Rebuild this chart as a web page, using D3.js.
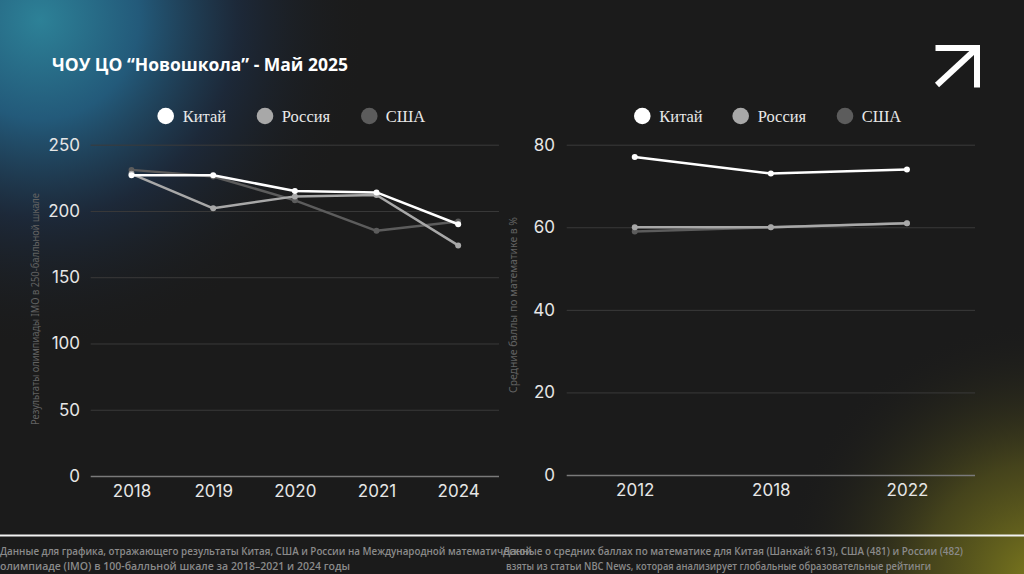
<!DOCTYPE html>
<html><head><meta charset="utf-8">
<script src="https://cdn.jsdelivr.net/npm/d3@7"></script>
<style>
html,body{margin:0;padding:0;background:#1b1b1b;overflow:hidden;}
svg{display:block;}
</style></head>
<body>
<svg id="chart" width="1024" height="574"></svg>
<script>
const titleText = "ЧОУ ЦО “Новошкола” - Май 2025";
const seriesNames = ["Китай", "Россия", "США"];
const seriesColors = ["#ffffff", "#a8a8a8", "#5c5c5c"];

const imoYears = ["2018", "2019", "2020", "2021", "2024"];
const imoChina = [227, 227, 215, 214, 190];
const imoRussia = [228, 202, 211, 212, 174];
const imoUSA = [231, 226, 208, 185, 192];
const imoTicks = [0, 50, 100, 150, 200, 250];

const mathYears = ["2012", "2018", "2022"];
const mathChina = [77, 73, 74];
const mathRussia = [60, 60, 61];
const mathUSA = [59, 60, 61];
const mathTicks = [0, 20, 40, 60, 80];

const leftAxisTitle = "Результаты олимпиады IMO в 250-балльной шкале";
const rightAxisTitle = "Средние баллы по математике в %";
const footLeft = ["Данные для графика, отражающего результаты Китая, США и России на Международной математической",
                  "олимпиаде (IMO) в 100-балльной шкале за 2018–2021 и 2024 годы"];
const footRight = ["Данные о средних баллах по математике для Китая (Шанхай: 613), США (481) и России (482)",
                   "взяты из статьи NBC News, которая анализирует глобальные образовательные рейтинги"];

const svg = d3.select("#chart");
const defs = svg.append("defs");
const g1 = defs.append("radialGradient").attr("id","tl").attr("cx",40).attr("cy",20).attr("r",330).attr("gradientUnits","userSpaceOnUse");
g1.append("stop").attr("offset",0).attr("stop-color","#2d8197");
g1.append("stop").attr("offset",0.3).attr("stop-color","#235a7a");
g1.append("stop").attr("offset",0.6).attr("stop-color","#1d2c40").attr("stop-opacity",0.8);
g1.append("stop").attr("offset",1).attr("stop-color","#1b1b1b").attr("stop-opacity",0);
const g2 = defs.append("radialGradient").attr("id","br").attr("cx",1040).attr("cy",580).attr("r",260).attr("gradientUnits","userSpaceOnUse");
g2.append("stop").attr("offset",0).attr("stop-color","#7d7a1e");
g2.append("stop").attr("offset",0.45).attr("stop-color","#4f4d1c").attr("stop-opacity",0.8);
g2.append("stop").attr("offset",1).attr("stop-color","#1b1b1b").attr("stop-opacity",0);

svg.append("rect").attr("width",1024).attr("height",574).attr("fill","#1b1b1b");
svg.append("rect").attr("width",1024).attr("height",574).attr("fill","url(#tl)");
svg.append("rect").attr("width",1024).attr("height",574).attr("fill","url(#br)");

// title
svg.append("text").attr("x",52).attr("y",71).text(titleText)
  .attr("fill","#fff").attr("font-family","Open Sans").attr("font-weight",700).attr("font-size",17.5);

// arrow icon
const arrow = svg.append("g").attr("fill","none").attr("stroke","#fff").attr("stroke-width",6).attr("stroke-linecap","butt");
arrow.append("path").attr("d","M935.5,48 L977,48 L977,87.5");
arrow.append("path").attr("d","M937,85 L976.5,48.5");

function drawChart(opt){
  const g = svg.append("g");
  const x = d3.scalePoint().domain(opt.cats).range([opt.x0, opt.x1]).padding(0.5);
  const y = d3.scaleLinear().domain([0, opt.max]).range([opt.y1, opt.y0]);
  const ya = g.append("g").attr("transform",`translate(${opt.x0},0)`)
    .call(d3.axisLeft(y).tickValues(opt.ticks).tickSize(-(opt.x1-opt.x0)).tickPadding(10));
  ya.select(".domain").remove();
  ya.selectAll(".tick line").attr("stroke", d => d===0 ? "#7a7a7a" : "#3a3a3a").attr("stroke-width", d => d===0?1.5:1);
  ya.selectAll(".tick text").attr("fill","#e6e6e6").attr("font-family","Inter").attr("font-size",17).attr("x", opt.labelX - opt.x0);
  const xa = g.append("g").attr("transform",`translate(0,${opt.y1})`)
    .call(d3.axisBottom(x).tickSize(0).tickPadding(9));
  xa.select(".domain").remove();
  xa.selectAll(".tick text").attr("fill","#e6e6e6").attr("font-family","Inter").attr("font-size",17);

  const line = d3.line().x((d,i)=>x(opt.cats[i])).y(d=>y(d));
  [2,1,0].forEach(k=>{
    const vals = opt.series[k];
    g.append("path").datum(vals).attr("d",line).attr("fill","none")
      .attr("stroke",seriesColors[k]).attr("stroke-width",2.5).attr("stroke-linejoin","round");
    g.selectAll(null).data(vals).join("circle")
      .attr("cx",(d,i)=>x(opt.cats[i])).attr("cy",d=>y(d)).attr("r",3).attr("fill",seriesColors[k]);
  });

  g.append("text").attr("transform",`translate(${opt.titleX},${opt.titleY}) rotate(-90)`)
    .attr("text-anchor","middle").attr("fill","#626262").attr("font-family","Noto Sans").attr("font-size",11.5)
    .attr("textLength",opt.titleLen).attr("lengthAdjust","spacingAndGlyphs")
    .text(opt.title);

  const lg = g.append("g");
  opt.legend.forEach((p,k)=>{
    lg.append("circle").attr("cx",p[0]).attr("cy",116).attr("r",8.3).attr("fill",seriesColors[k]);
    lg.append("text").attr("x",p[1]).attr("y",121.5).text(seriesNames[k])
      .attr("fill","#e8e8e8").attr("font-family","Liberation Serif").attr("font-size",16.5);
  });
}

drawChart({cats: imoYears, series:[imoChina, imoRussia, imoUSA], max:250, ticks: imoTicks,
  x0:90.7, x1:499, y0:144.7, y1:476, labelX:80, title:leftAxisTitle, titleX:38.5, titleY:309, titleLen:232,
  legend:[[165.7,182.7],[265,281.7],[369.3,385.7]]});
drawChart({cats: mathYears, series:[mathChina, mathRussia, mathUSA], max:80, ticks: mathTicks,
  x0:566.7, x1:975, y0:144.7, y1:475, labelX:555, title:rightAxisTitle, titleX:516.5, titleY:305, titleLen:176,
  legend:[[642.3,659.3],[740.7,757.7],[845,861.7]]});

// footer
svg.append("line").attr("x1",0).attr("x2",1024).attr("y1",535.5).attr("y2",535.5).attr("stroke","#f2f2f2").attr("stroke-width",2);
const footCol = "#8a8a8a";
const footLeftLen = [532, 350];
const footRightX = [503, 506];
const footRightLen = [460, 425];
footLeft.forEach((t,i)=>{
  svg.append("text").attr("x",0).attr("y",555+i*14.5).text(t)
    .attr("textLength",footLeftLen[i]).attr("lengthAdjust","spacingAndGlyphs")
    .attr("fill",footCol).attr("font-family","Open Sans").attr("font-weight",600).attr("font-size",11);
});
footRight.forEach((t,i)=>{
  svg.append("text").attr("x",footRightX[i]).attr("y",555+i*14.5).text(t)
    .attr("textLength",footRightLen[i]).attr("lengthAdjust","spacingAndGlyphs")
    .attr("fill",footCol).attr("font-family","Open Sans").attr("font-weight",600).attr("font-size",11);
});
</script>
</body></html>
